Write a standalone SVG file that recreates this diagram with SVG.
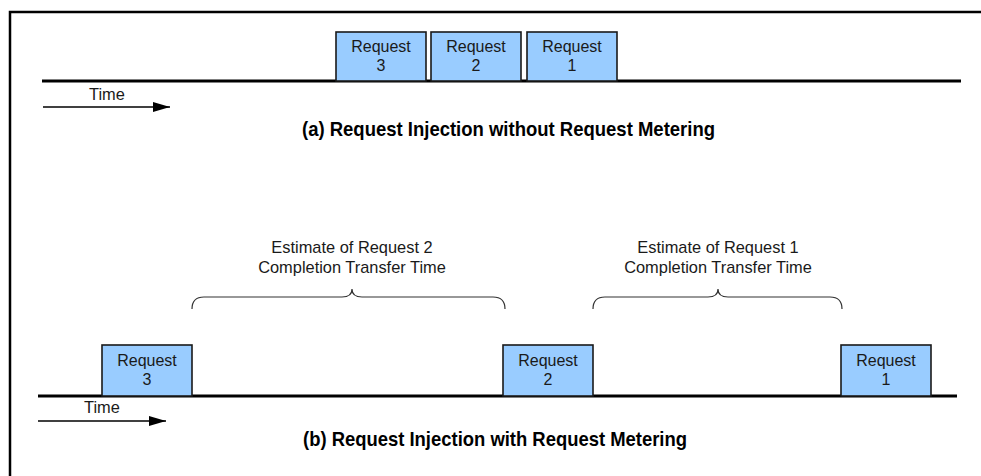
<svg xmlns="http://www.w3.org/2000/svg" width="981" height="476" viewBox="0 0 981 476">
<defs>
<style>
.box{fill:#99CCFF;stroke:#1a1a1a;stroke-width:1.6}
.bt{font-family:"Liberation Sans",Arial,sans-serif;font-size:16px;fill:#1a1a1a;text-anchor:middle}
.lbl{font-family:"Liberation Sans",Arial,sans-serif;font-size:16.4px;fill:#1a1a1a;text-anchor:middle}
.title{font-family:"Liberation Sans",Arial,sans-serif;font-size:21px;font-weight:bold;fill:#000;text-anchor:middle}
.tl{stroke:#000;stroke-width:3;fill:none}
.arr{stroke:#000;stroke-width:1.5;fill:none}
.brace{stroke:#333;stroke-width:1.2;fill:none}
</style>
<marker id="ah" viewBox="0 0 17 10" refX="17" refY="5" markerWidth="17" markerHeight="10" markerUnits="userSpaceOnUse" orient="auto">
<path d="M0,0 L17,5 L0,10 Z" fill="#000"/>
</marker>
</defs>
<rect width="981" height="476" fill="#fff"/>
<path d="M10,476 V12 H981" fill="none" stroke="#000" stroke-width="2.5"/>
<g id="connectors">
<line class="tl" x1="42" y1="81" x2="961" y2="81"/>
<line class="arr" x1="43" y1="107" x2="170" y2="107" marker-end="url(#ah)"/>
<line class="tl" x1="38" y1="396" x2="957" y2="396"/>
<line class="arr" x1="38" y1="421" x2="166" y2="421" marker-end="url(#ah)"/>
<path class="brace" d="M192,309 Q192,297 204,297 L342,297 Q352,297 352,289 Q352,297 362,297 L493,297 Q505,297 505,309"/>
<path class="brace" d="M593,309 Q593,297 605,297 L708,297 Q718,297 718,289 Q718,297 728,297 L830,297 Q842,297 842,309"/>
</g>
<g id="time-a"><text class="lbl" x="107" y="100">Time</text></g>
<g id="time-b"><text class="lbl" x="102" y="413">Time</text></g>
<g id="a-req3"><rect class="box" x="336" y="32" width="90" height="49"/><text class="bt" x="381" y="52">Request</text><text class="bt" x="381" y="71">3</text></g>
<g id="a-req2"><rect class="box" x="431" y="32" width="90" height="49"/><text class="bt" x="476" y="52">Request</text><text class="bt" x="476" y="71">2</text></g>
<g id="a-req1"><rect class="box" x="527" y="32" width="90" height="49"/><text class="bt" x="572" y="52">Request</text><text class="bt" x="572" y="71">1</text></g>
<g id="title-a"><text class="title" x="508.5" y="136" textLength="413" lengthAdjust="spacingAndGlyphs">(a) Request Injection without Request Metering</text></g>
<g id="est2"><text class="lbl" x="352" y="253">Estimate of Request 2</text><text class="lbl" x="352" y="273">Completion Transfer Time</text></g>
<g id="est1"><text class="lbl" x="718" y="253">Estimate of Request 1</text><text class="lbl" x="718" y="273">Completion Transfer Time</text></g>
<g id="b-req3"><rect class="box" x="102" y="345" width="90" height="51"/><text class="bt" x="147" y="366">Request</text><text class="bt" x="147" y="385">3</text></g>
<g id="b-req2"><rect class="box" x="503" y="345" width="90" height="51"/><text class="bt" x="548" y="366">Request</text><text class="bt" x="548" y="385">2</text></g>
<g id="b-req1"><rect class="box" x="841" y="345" width="90" height="51"/><text class="bt" x="886" y="366">Request</text><text class="bt" x="886" y="385">1</text></g>
<g id="title-b"><text class="title" x="495" y="446" textLength="384" lengthAdjust="spacingAndGlyphs">(b) Request Injection with Request Metering</text></g>
</svg>
